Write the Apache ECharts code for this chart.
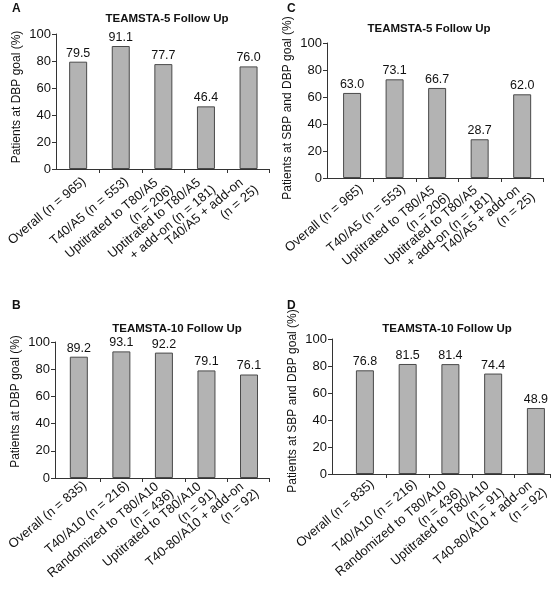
<!DOCTYPE html>
<html>
<head>
<meta charset="utf-8">
<script src="https://cdn.jsdelivr.net/npm/echarts@6/dist/echarts.min.js"></script>
<style>html,body{margin:0;padding:0;background:#fff}#c{width:557px;height:595px}</style>
</head>
<body>
<div id="c"></div>
<script>
var catsTop = ['Overall (n = 965)', 'T40/A5 (n = 553)', 'Uptitrated to T80/A5\n(n = 206)', 'Uptitrated to T80/A5\n+ add-on (n = 181)', 'T40/A5 + add-on\n(n = 25)'];
var catsBottom = ['Overall (n = 835)', 'T40/A10 (n = 216)', 'Randomized to T80/A10\n(n = 436)', 'Uptitrated to T80/A10\n(n = 91)', 'T40-80/A10 + add-on\n(n = 92)'];
var valsA = [79.5, 91.1, 77.7, 46.4, 76.0];
var valsC = [63.0, 73.1, 66.7, 28.7, 62.0];
var valsB = [89.2, 93.1, 92.2, 79.1, 76.1];
var valsD = [76.8, 81.5, 81.4, 74.4, 48.9];
var titleTop = 'TEAMSTA-5 Follow Up';
var titleBottom = 'TEAMSTA-10 Follow Up';
var yNameDBP = 'Patients at DBP goal (%)';
var yNameBoth = 'Patients at SBP and DBP goal (%)';
var yMin = 0, yMax = 100, yStep = 20;

var W = 557, H = 595;
var FONT = 'Liberation Sans';
// xr: visible category range (in category index units) for each panel's axis
var panels = [
  {letter:'A', lx:7, ly:-2, title:titleTop, tx:162, ty:8, grid:{left:56,right:288,top:34,bottom:426}, xr:[-0.52,4.48], cats:catsTop, vals:valsA, yName:yNameDBP, m:16, sh:8, np:9},
  {letter:'C', lx:282, ly:-2, title:titleTop, tx:424, ty:18, grid:{left:327,right:14,top:43,bottom:417}, xr:[-0.59,4.49], cats:catsTop, vals:valsC, yName:yNameBoth, m:17, sh:12, np:5},
  {letter:'B', lx:7, ly:295, title:titleBottom, tx:172, ty:318, grid:{left:55,right:288,top:342,bottom:117}, xr:[-0.56,4.47], cats:catsBottom, vals:valsB, yName:yNameDBP, m:11, sh:8, np:17},
  {letter:'D', lx:282, ly:295, title:titleBottom, tx:442, ty:318, grid:{left:332,right:7,top:339,bottom:121}, xr:[-0.77,4.33], cats:catsBottom, vals:valsD, yName:yNameBoth, m:15, sh:10, np:11}
];

function labelFmt(v){
  var lines = String(v).split('\n');
  if (lines.length < 2) return v;
  return lines[0] + '   \n' + lines[1] + ' ';
}

var option = {backgroundColor:'#fff', animation:false, title:[], grid:[], xAxis:[], yAxis:[], series:[]};
panels.forEach(function(p, i){
  var n = p.cats.length;
  var bounds = [];
  for (var k = 0; k < n - 1; k++) bounds.push(k + 0.5);
  bounds.push(p.xr[1]);
  // pixel geometry of the main grid, used to overlay a category label grid
  var L = p.grid.left, R = W - p.grid.right;
  var s = (R - L) / (p.xr[1] - p.xr[0]);
  var c0 = L - p.xr[0] * s;
  var lgLeft = c0 - s / 2, lgRight = W - (c0 + (n - 0.5) * s);

  option.title.push({text:p.letter, left:p.lx, top:p.ly, textStyle:{fontFamily:FONT, fontSize:12, fontWeight:'bold', color:'#111'}});
  option.title.push({text:p.title, left:p.tx, top:p.ty, textAlign:'center', textStyle:{fontFamily:FONT, fontSize:11.5, fontWeight:'bold', color:'#111'}});

  var gMain = option.grid.length;
  option.grid.push(p.grid);
  var gLab = option.grid.length;
  option.grid.push({left:lgLeft, right:lgRight, top:p.grid.top, bottom:p.grid.bottom});

  var xMain = option.xAxis.length;
  option.xAxis.push({type:'value', gridIndex:gMain, min:p.xr[0], max:p.xr[1],
    splitLine:{show:false},
    axisLine:{show:true, onZero:false, lineStyle:{color:'#333', width:1}},
    axisTick:{show:true, length:4, customValues:bounds, lineStyle:{color:'#333'}},
    axisLabel:{show:false}
  });
  option.xAxis.push({type:'category', gridIndex:gLab, data:p.cats, boundaryGap:true,
    axisLine:{show:false}, axisTick:{show:false}, splitLine:{show:false},
    axisLabel:{interval:0, rotate:40, margin:p.m, padding:[0,-p.sh,0,0], fontFamily:FONT, fontSize:13, color:'#111', lineHeight:15, formatter:labelFmt}
  });
  var yMain = option.yAxis.length;
  option.yAxis.push({type:'value', gridIndex:gMain, min:yMin, max:yMax, interval:yStep,
    name:p.yName, nameLocation:'middle', nameGap:33, nameRotate:90,
    nameTextStyle:{fontFamily:FONT, fontSize:12, color:'#111', padding:[0,0,0,p.np]},
    axisLine:{show:true, onZero:false, lineStyle:{color:'#333', width:1}},
    axisTick:{show:true, length:4, lineStyle:{color:'#333'}},
    splitLine:{show:false},
    axisLabel:{fontFamily:FONT, fontSize:13, color:'#111', margin:5}
  });
  option.yAxis.push({type:'value', gridIndex:gLab, min:yMin, max:yMax, show:false});

  option.series.push({type:'bar', xAxisIndex:xMain, yAxisIndex:yMain, barWidth:18,
    data:p.vals.map(function(v, k){ return [k, v]; }),
    itemStyle:{color:'#b3b3b3', borderColor:'#4a4a4a', borderWidth:1},
    label:{show:true, position:'top', distance:2, fontFamily:FONT, fontSize:12.5, color:'#111',
      formatter:function(d){return d.value[1].toFixed(1);}}
  });
});
var chart = echarts.init(document.getElementById('c'), null, {renderer:'canvas'});
chart.setOption(option);
</script>
</body>
</html>
